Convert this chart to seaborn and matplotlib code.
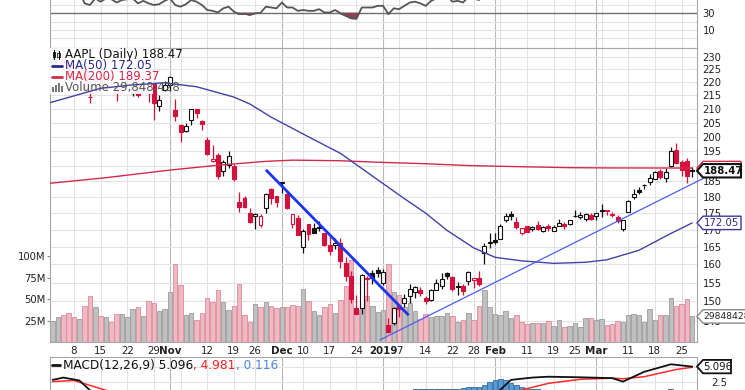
import numpy as np
import pandas as pd
import matplotlib
matplotlib.use("Agg")
import matplotlib.pyplot as plt
import seaborn as sns
from matplotlib.patches import Polygon, Rectangle
from matplotlib.lines import Line2D
from matplotlib.transforms import IdentityTransform, blended_transform_factory
from matplotlib.ticker import NullLocator, NullFormatter

# --- AAPL daily bars, 2 Oct 2018 .. 27 Mar 2019 ---
holidays = ["2018-11-22", "2018-12-05", "2018-12-25", "2019-01-01", "2019-01-21", "2019-02-18"]
prev_close = 227.26

opens = [227.25, 230.05, 230.78, 227.96, 222.21, 223.64, 225.46, 214.52, 220.42, 221.16,
         218.93, 222.30, 217.86, 218.06, 219.79, 215.83, 222.60, 217.71, 215.90, 219.19,
         211.15, 216.88, 219.05, 209.55, 204.30, 201.92, 205.97, 209.98, 205.55, 199.00,
         191.63, 193.90, 188.39, 190.50, 190.00, 178.37, 179.73, 174.94, 174.24, 171.51,
         176.73, 182.66, 180.29, 184.46, 180.95, 171.76, 173.49, 165.00, 171.66, 170.40,
         170.49, 169.00, 165.45, 165.38, 166.00, 160.40, 156.86, 148.15, 148.30, 155.84,
         157.50, 158.53, 154.89, 143.98, 144.53, 148.70, 149.56, 151.29, 152.50, 152.88,
         150.85, 150.27, 153.08, 154.20, 157.50, 156.41, 154.15, 154.11, 155.48, 155.79,
         156.25, 163.25, 166.11, 166.96, 167.41, 172.86, 174.65, 172.40, 168.99, 171.05,
         170.10, 171.39, 169.71, 171.25, 169.71, 171.19, 171.80, 171.58, 174.16, 173.71,
         173.21, 174.32, 174.28, 175.69, 175.94, 174.67, 173.87, 170.32, 175.49, 180.00,
         182.25, 183.90, 184.85, 185.80, 188.35, 186.23, 190.02, 195.34, 191.51, 191.66,
         188.75]
highs = [230.00, 233.47, 232.35, 228.41, 224.80, 227.27, 226.35, 219.50, 222.88, 221.83,
         222.99, 222.64, 219.74, 221.26, 223.36, 223.25, 224.23, 221.38, 220.19, 219.69,
         215.18, 220.45, 222.36, 213.65, 204.39, 204.72, 210.06, 210.12, 206.01, 199.85,
         197.18, 194.48, 191.97, 194.97, 190.70, 181.47, 180.27, 176.60, 174.95, 174.77,
         181.29, 182.80, 180.33, 184.94, 182.39, 174.78, 174.49, 170.09, 171.79, 171.92,
         172.57, 169.08, 168.35, 167.53, 167.45, 162.11, 158.16, 151.55, 157.23, 156.77,
         158.52, 159.36, 158.85, 145.72, 148.55, 148.83, 151.82, 154.53, 153.97, 153.70,
         151.27, 153.39, 155.88, 157.66, 157.88, 156.73, 155.14, 154.48, 158.13, 156.33,
         158.13, 166.15, 169.00, 168.98, 171.66, 175.08, 175.57, 173.94, 170.66, 171.21,
         171.00, 172.48, 171.26, 171.70, 171.44, 173.32, 172.37, 173.00, 175.87, 175.30,
         175.00, 174.91, 175.15, 177.75, 176.00, 175.49, 174.44, 173.07, 179.12, 182.67,
         183.30, 184.10, 187.33, 188.39, 188.99, 189.49, 196.33, 197.69, 191.98, 192.88,
         189.76]
lows = [226.63, 229.78, 226.73, 220.58, 220.20, 222.25, 216.05, 212.32, 216.84, 217.27,
        216.76, 219.34, 213.00, 217.43, 218.94, 214.70, 214.54, 216.75, 212.67, 206.09,
        209.27, 216.62, 216.81, 205.43, 198.17, 201.69, 204.13, 206.75, 202.25, 193.79,
        191.45, 185.93, 186.90, 189.46, 184.99, 175.51, 176.55, 172.10, 170.26, 170.88,
        174.93, 177.70, 177.03, 181.21, 176.27, 170.42, 168.30, 163.33, 167.00, 169.02,
        169.55, 165.28, 162.73, 164.39, 159.09, 155.30, 149.63, 146.59, 146.72, 150.07,
        154.55, 156.48, 154.23, 142.00, 143.80, 145.90, 148.52, 149.63, 150.86, 151.51,
        149.22, 150.05, 153.00, 153.26, 155.98, 152.62, 151.70, 151.74, 154.32, 153.66,
        154.11, 160.23, 164.56, 165.93, 167.28, 172.35, 172.85, 170.34, 168.42, 169.25,
        169.70, 169.92, 169.38, 169.75, 169.49, 170.99, 170.30, 171.38, 173.95, 173.17,
        172.73, 172.92, 172.89, 173.97, 174.54, 173.94, 172.02, 169.50, 175.35, 179.37,
        180.92, 182.56, 183.74, 185.79, 185.92, 184.73, 189.81, 190.78, 186.60, 184.58,
        186.55]
closes = [229.28, 232.07, 227.99, 224.29, 223.77, 226.87, 216.36, 214.45, 222.11, 217.36,
          222.15, 221.19, 216.02, 219.31, 220.65, 222.73, 215.09, 219.80, 216.30, 212.24,
          213.30, 218.86, 222.22, 207.48, 201.59, 203.77, 209.95, 208.49, 204.47, 194.17,
          192.23, 186.80, 191.41, 193.53, 185.86, 176.98, 176.78, 172.29, 174.62, 174.24,
          180.94, 179.55, 178.58, 184.82, 176.69, 174.72, 168.49, 169.60, 168.63, 169.10,
          170.95, 165.48, 163.94, 166.07, 160.89, 156.83, 150.73, 146.83, 157.17, 156.15,
          156.23, 157.74, 157.92, 142.19, 148.26, 147.93, 150.75, 153.31, 153.80, 152.29,
          150.00, 153.07, 154.94, 155.86, 156.82, 153.30, 153.92, 152.70, 157.76, 156.30,
          154.68, 165.25, 166.44, 166.52, 171.25, 174.18, 174.24, 170.94, 170.41, 169.43,
          170.89, 170.18, 170.80, 170.42, 170.93, 172.03, 171.06, 172.97, 174.23, 174.33,
          174.87, 173.15, 174.97, 175.85, 175.53, 174.52, 172.50, 172.91, 178.90, 180.91,
          181.71, 183.73, 186.12, 188.02, 186.53, 188.16, 195.09, 191.05, 188.74, 186.79,
          188.47]
volumes_m = [24.8, 28.7, 32.0, 33.6, 29.7, 26.9, 42.0, 53.1, 40.3, 30.8,
             29.2, 22.9, 32.6, 33.1, 28.8, 38.7, 40.9, 29.9, 47.3, 45.9,
             36.7, 38.4, 58.3, 91.3, 66.2, 31.9, 33.4, 25.4, 34.4, 51.1,
             46.9, 60.8, 46.5, 36.9, 41.9, 67.8, 31.1, 23.6, 44.9, 41.4,
             46.1, 41.8, 39.5, 40.8, 41.3, 43.1, 42.3, 62.0, 47.3, 35.6,
             31.9, 40.7, 44.3, 33.8, 49.0, 64.8, 95.7, 37.2, 58.6, 53.1,
             42.3, 35.0, 37.0, 91.3, 58.6, 54.8, 41.0, 45.1, 35.8, 27.0,
             32.4, 28.7, 30.6, 29.8, 33.8, 30.4, 23.1, 25.4, 33.5, 26.2,
             41.6, 61.1, 40.7, 32.7, 31.5, 36.1, 28.2, 31.7, 23.8, 20.9,
             22.3, 22.5, 21.8, 24.6, 19.0, 26.1, 17.2, 18.9, 21.9, 17.1,
             27.8, 28.2, 25.9, 27.4, 19.7, 20.8, 24.8, 23.9, 32.0, 32.5,
             31.0, 23.6, 39.0, 26.2, 31.6, 31.0, 51.0, 42.4, 43.8, 49.8,
             29.85]

# moving averages, read at a few points along each line (bar index, price)
ma50_idx = [-0.5, 9, 15, 21, 27, 34, 37, 41, 48, 54, 61, 66, 70, 74, 79, 83, 88, 94, 100, 104, 110, 116, 120]
ma50_val = [212.3, 217.7, 219.0, 219.8, 218.3, 214.4, 211.8, 207.0, 200.0, 194.3, 185.5, 179.5,
            175.0, 169.8, 164.7, 162.0, 161.0, 160.3, 160.6, 161.3, 164.0, 168.9, 172.05]
ma200_idx = [-0.5, 10, 22, 31, 40, 45, 54, 61, 70, 78, 88, 97, 105, 120]
ma200_val = [184.4, 186.2, 188.7, 190.3, 191.6, 192.0, 191.8, 191.3, 190.8, 190.2, 189.8, 189.5, 189.4, 189.37]

# drawn trend lines (bar index, price)
down_line_idx = [40.0, 66.8]
down_line_val = [188.8, 146.4]
up_line_idx = [61.4, 122.0]
up_line_val = [140.2, 185.9]

# RSI(14), one value per bar
rsi = [62, 66, 58, 53, 52, 56, 42, 40, 48, 44,
       48, 47, 43, 46, 47, 48, 42, 45, 42, 40,
       41, 45, 48, 40, 38, 41, 46, 44, 40, 34,
       33, 31, 36, 38, 32, 29, 29.5, 28, 30, 30.5,
       38, 37, 36, 43, 37, 37, 33, 34, 33, 33,
       35, 31, 31, 34, 30, 27, 24, 23.5, 37, 37,
       37, 39, 39, 29, 36, 35, 39, 43, 44, 42,
       39, 45, 48, 50, 51, 44, 45, 43, 50, 48,
       46, 60, 62, 62, 66, 69, 69, 62, 61, 59,
       61, 59, 60, 59, 60, 62, 60, 63, 66, 66,
       67, 63, 66, 67, 66, 63, 58, 59, 67, 70,
       71, 73, 76, 78, 74, 76, 82, 70, 65, 62,
       64]

# MACD(12,26,9)
macd_idx = [0, 2, 5, 7, 12, 20, 30, 40, 50, 57, 63, 70, 76, 81, 84, 86, 90, 93, 99, 105, 107, 111, 116, 120]
macd_val = [2.8, 3.2, 2.7, 1.0, -1.0, -2.5, -6.0, -9.0, -10.0, -12.0, -11.5, -7.5, -4.5, -1.0,
            1.1, 2.8, 3.2, 3.35, 3.25, 3.1, 2.5, 4.2, 5.5, 5.096]
signal_idx = [0, 4, 10, 20, 30, 40, 50, 60, 70, 80, 88, 93, 99, 105, 107, 111, 117, 120]
signal_val = [2.5, 2.7, 1.0, -0.5, -4.0, -7.0, -8.5, -10.0, -9.5, -3.5, 1.05, 2.2, 2.9, 3.1, 3.0, 3.35, 4.6, 4.981]
hist_idx = list(range(66, 93)) + [115, 116, 117, 118]
hist_val = [0.9, 1.0, 1.15, 1.2, 1.2, 1.25, 1.25, 1.25, 1.2, 1.15, 1.2, 1.35, 1.5, 1.55,
            1.6, 1.9, 2.4, 2.8, 2.9, 2.7, 2.3, 1.9, 1.6, 1.4, 1.3, 1.2, 1.1,
            0.9, 1.15, 1.1, 0.8]

price_ticks = list(range(145, 235, 5))
vol_ticks = [25e6, 50e6, 75e6, 100e6]
vol_labels = ["25M", "50M", "75M", "100M"]

tick_dates = ["2018-10-08", "2018-10-15", "2018-10-22", "2018-10-29", "2018-11-01", "2018-11-12",
              "2018-11-19", "2018-11-26", "2018-12-03", "2018-12-10", "2018-12-17", "2018-12-24",
              "2019-01-02", "2019-01-07", "2019-01-14", "2019-01-22", "2019-01-28", "2019-02-01",
              "2019-02-11", "2019-02-19", "2019-02-25", "2019-03-01", "2019-03-11", "2019-03-18",
              "2019-03-25"]
tick_labels = ["8", "15", "22", "29", "Nov", "12", "19", "26", "Dec", "10", "17", "24",
               "2019", "7", "14", "22", "28", "Feb", "11", "19", "25", "Mar", "11", "18", "25"]
bold_labels = {"Nov", "Dec", "2019", "Feb", "Mar"}
month_dates = ["2018-11-01", "2018-12-03", "2019-01-02", "2019-02-01", "2019-03-01"]
grid_dates = tick_dates + ["2018-11-05", "2019-02-04", "2019-03-04"]

# ---- trading-day positions ----
days = pd.bdate_range("2018-10-02", "2019-03-27")
days = days[~days.isin(pd.to_datetime(holidays))]
idx = np.arange(len(days))


def pos(d):
    return days.get_loc(pd.Timestamp(d))


o, h, l, c = map(np.array, (opens, highs, lows, closes))
vol = np.array(volumes_m) * 1e6
rsi = np.array(rsi, dtype=float)

# ---- figure & panels (pixel layout) ----
sns.set_theme(style="white")
plt.rcParams["font.family"] = ["DejaVu Sans"]

W, H = 745, 390
fig = plt.figure(figsize=(W / 100, H / 100), dpi=100)
fig.patch.set_facecolor("white")


def rect(x0, y0, x1, y1):
    return [x0 / W, 1 - y1 / H, (x1 - x0) / W, (y1 - y0) / H]


ax_rsi = fig.add_axes(rect(50, -30, 697, 48))
ax_vol = fig.add_axes(rect(50, 48, 697, 342))
ax = fig.add_axes(rect(50, 48, 697, 342), sharex=ax_vol)
ax_macd = fig.add_axes(rect(50, 357, 697, 440))
ax.patch.set_visible(False)

for a in (ax_rsi, ax_vol, ax_macd):
    a.set_xlim(-0.5, 120.9)
ax_rsi.set_ylim(-11.8, 82.2)
ax_vol.set_ylim(0, 343e6)
ax.set_yscale("log")
ax.set_ylim(139.7, 233.6)
ax_macd.set_ylim(-7.6, 6.76)

RED = "#d4103c"
grid_c, month_c = "#e3e3e3", "#b8b8b8"

# grid
for d in grid_dates:
    col = month_c if d in month_dates else grid_c
    for a in (ax_rsi, ax_vol, ax_macd):
        a.axvline(pos(d), color=col, lw=0.8, zorder=0)
price_blend = blended_transform_factory(ax_vol.transAxes, ax.transData)
for p in price_ticks:
    ax_vol.plot([0, 1], [p, p], transform=price_blend, color=grid_c, lw=0.8, zorder=0)
for v in (0, 10, 20, 40, 50, 60, 80):
    ax_rsi.axhline(v, color=grid_c, lw=0.8, zorder=0)
for v in (30, 70):
    ax_rsi.axhline(v, color="#707070", lw=1.0, zorder=1)
for v in (-5, -2.5, 0, 2.5, 5):
    ax_macd.axhline(v, color=grid_c, lw=0.8, zorder=0)

# volume overlay
prev = np.r_[prev_close, c[:-1]]
down = c < prev
ax_vol.bar(idx, vol, width=0.84, color=np.where(down, "#efb9c3", "#c0c0c0"),
           edgecolor=np.where(down, "#dd8a9a", "#9c9c9c"), linewidth=0.6, zorder=2)

# candles
ccol = np.where(down, RED, "#111111")
ax.vlines(idx, l, h, colors=ccol, lw=0.9, zorder=3)
face = np.where(c >= o, "white", ccol)
ax.bar(idx, np.abs(c - o), bottom=np.minimum(o, c), width=0.74, color=face,
       edgecolor=ccol, linewidth=0.8, zorder=3.2)

# legend backdrop (covers candles, under the lines)
ax.add_artist(Rectangle((50, H - 94), 103, 46, transform=IdentityTransform(),
                        facecolor="white", edgecolor="none", alpha=0.93, zorder=3.5))

sns.lineplot(x=ma200_idx, y=ma200_val, ax=ax, color="#d42a4a", linewidth=1.0, zorder=4)
sns.lineplot(x=ma50_idx, y=ma50_val, ax=ax, color="#4242a8", linewidth=1.0, zorder=4)
ax.plot(down_line_idx, down_line_val, color="#1c34f0", lw=2.0, zorder=4.5, solid_capstyle="butt")
ax.plot(up_line_idx, up_line_val, color="#4a5ef0", lw=0.9, zorder=4.5, clip_on=False)

# RSI
sns.lineplot(x=idx, y=rsi, ax=ax_rsi, color="#555555", linewidth=1.3, zorder=3)
ax_rsi.fill_between(idx, rsi, 30, where=rsi < 30, interpolate=True, color="#8c4455", zorder=2)

# MACD
ax_macd.bar(hist_idx, hist_val, width=0.9, color="#5b9bd5", edgecolor="#2e6da4", linewidth=0.6, zorder=2)
sns.lineplot(x=signal_idx, y=signal_val, ax=ax_macd, color="#ff2a2a", linewidth=1.1, zorder=3)
sns.lineplot(x=macd_idx, y=macd_val, ax=ax_macd, color="#111111", linewidth=1.3, zorder=4)

# axes cosmetics
for a in (ax_rsi, ax_vol, ax_macd):
    for s in a.spines.values():
        s.set_color("#a6a6a6")
        s.set_linewidth(0.8)
    a.set_xlabel("")
    a.set_ylabel("")
for s in ax.spines.values():
    s.set_visible(False)
ax.set_xlabel("")
ax.set_ylabel("")

ax_vol.set_xticks([pos(d) for d in tick_dates])
ax_vol.set_xticklabels(tick_labels)
ax_vol.tick_params(axis="x", bottom=False, length=0, pad=3, labelsize=7.4, labelcolor="#222222")
for t in ax_vol.get_xticklabels():
    if t.get_text() in bold_labels:
        t.set_fontweight("bold")
ax_vol.set_yticks(vol_ticks)
ax_vol.set_yticklabels(vol_labels)
ax_vol.tick_params(axis="y", left=True, length=2.2, width=0.8, color="#888888", pad=0.8,
                   labelsize=7.2, labelcolor="#222222")

ax.tick_params(axis="x", bottom=False, labelbottom=False)
ax.yaxis.set_minor_locator(NullLocator())
ax.yaxis.set_minor_formatter(NullFormatter())
ax.set_yticks(price_ticks)
ax.set_yticklabels([str(p) for p in price_ticks])
ax.tick_params(axis="y", which="both", left=False, right=False, labelleft=False, labelright=True,
               length=0, pad=4, labelsize=7.2, labelcolor="#222222")

ax_rsi.set_yticks([10, 30])
ax_rsi.set_yticklabels(["10", "30"])
ax_rsi.tick_params(axis="y", left=False, right=False, labelleft=False, labelright=True,
                   length=0, pad=4, labelsize=7.2, labelcolor="#222222")
ax_rsi.tick_params(axis="x", bottom=False, labelbottom=False)

ax_macd.set_yticks([2.5])
ax_macd.set_yticklabels(["2.5"])
ax_macd.tick_params(axis="y", left=False, right=False, labelleft=False, labelright=True,
                    length=0, pad=10.5, labelsize=7.2, labelcolor="#222222")
ax_macd.tick_params(axis="x", bottom=False, labelbottom=False)

# ---- right-hand value tags ----
z = [5]


def tag(a, value, label, edge, tcolor, width=44, weight="normal", lw=1.0, size=7.3):
    x0 = a.transAxes.transform((1, 0))[0]
    y = a.transData.transform((0, value))[1]
    hh = 6.7
    pts = [(x0, y), (x0 + 6, y + hh), (x0 + width, y + hh), (x0 + width, y - hh), (x0 + 6, y - hh)]
    fig.add_artist(Polygon(pts, closed=True, transform=IdentityTransform(), facecolor="white",
                           edgecolor=edge, lw=lw, zorder=z[0]))
    if label:
        fig.text(x0 + 6.5, y, label, transform=IdentityTransform(), ha="left", va="center",
                 fontsize=size, color=tcolor, fontweight=weight, zorder=z[0] + 0.5)
    z[0] += 1


tag(ax, ma200_val[-1], "", "#d42a4a", "#d42a4a")          # MA(200) tag, hidden behind the close tag
tag(ax, closes[-1], "188.47", "#111111", "#111111", weight="bold", lw=1.5)
tag(ax, ma50_val[-1], "172.05", "#3a3a9e", "#2a2a8a")
tag(ax_vol, vol[-1], "29848428", "#8a8a8a", "#222222", width=52, size=6.6)
tag(ax_macd, macd_val[-1], "5.096", "#111111", "#111111", width=34, lw=1.3)

# ---- panel legends ----
TI = IdentityTransform()
fig.add_artist(Line2D([53.5, 53.5], [H - 59, H - 50], color="#111111", lw=0.8, transform=TI))
fig.add_artist(Rectangle((52.5, H - 57), 2.2, 5, facecolor="#111111", edgecolor="#111111", lw=0.6, transform=TI))
fig.add_artist(Line2D([58.5, 58.5], [H - 59, H - 51], color="#111111", lw=0.8, transform=TI))
fig.add_artist(Rectangle((57.4, H - 57), 2.2, 4, facecolor="white", edgecolor="#111111", lw=0.6, transform=TI))
fig.add_artist(Line2D([52, 62], [H - 66, H - 66], color="#2a2a8a", lw=2, transform=TI))
fig.add_artist(Line2D([52, 62], [H - 77, H - 77], color="#d42a4a", lw=2, transform=TI))
for bx, bh in zip([52, 55, 58, 61], [5, 7, 9, 6]):
    fig.add_artist(Rectangle((bx, H - 92), 2, bh, facecolor="#777777", edgecolor="none", transform=TI))

legend_rows = [("AAPL (Daily) 188.47", "#111111", 54.5), ("MA(50) 172.05", "#2a2a8a", 65.7),
               ("MA(200) 189.37", "#d42a4a", 76.7), ("Volume 29,848,428", "#555555", 87.7)]
for txt, colr, yy in legend_rows:
    fig.text(65, H - yy, txt, transform=TI, ha="left", va="center", fontsize=8.5, color=colr)

fig.add_artist(Line2D([52, 60], [H - 365, H - 365], color="#111111", lw=2, transform=TI))
renderer = fig.canvas.get_renderer()
xx = 63
for txt, colr in [("MACD(12,26,9) 5.096", "#111111"), (", 4.981", "#ff2020"), (", 0.116", "#4a86e8")]:
    t = fig.text(xx, H - 365, txt, transform=TI, ha="left", va="center", fontsize=8.7, color=colr)
    xx = t.get_window_extent(renderer).x1

fig.savefig("out.png", dpi=100)
